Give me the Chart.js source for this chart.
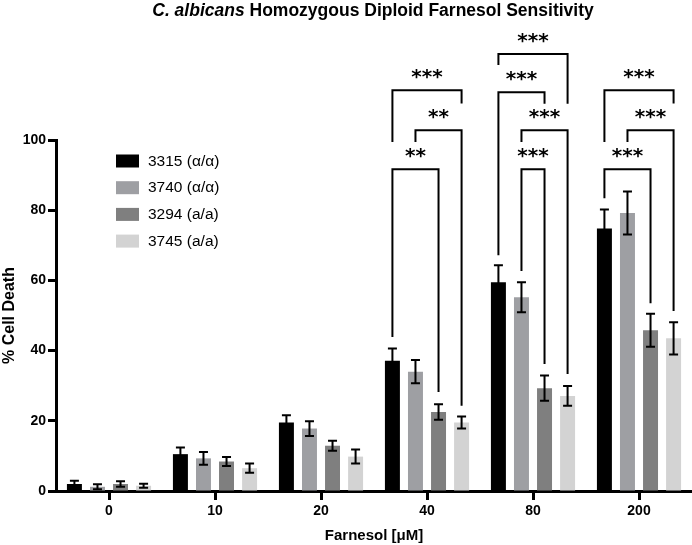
<!DOCTYPE html>
<html>
<head>
<meta charset="utf-8">
<script src="https://cdn.jsdelivr.net/npm/chart.js@4/dist/chart.umd.min.js"></script>
<style>
  html, body { margin: 0; padding: 0; background: #fff; }
  #wrap { position: relative; width: 692px; height: 545px; }
  #title { position: absolute; left: 0; width: 746px; top: 0px; text-align: center;
           font: bold 17.5px "Liberation Sans", Arial, sans-serif; color: #000; white-space: nowrap; }
  canvas { position: absolute; left: 0; top: 0; }
</style>
</head>
<body>
<div id="wrap">
  <canvas id="c" width="692" height="545"></canvas>
  <div id="title"><i>C. albicans</i> Homozygous Diploid Farnesol Sensitivity</div>
</div>
<script>
// ---- data ----
const categories = ['0', '10', '20', '40', '80', '200'];
const seriesLabels = ['3315 (\u03b1/\u03b1)', '3740 (\u03b1/\u03b1)', '3294 (a/a)', '3745 (a/a)'];
const seriesColors = ['#000000', '#9e9fa3', '#7f7f7f', '#d3d3d3'];
const values3315 = [2.0, 10.5, 19.5, 37.1, 59.5, 74.8];
const values3740 = [1.2, 9.3, 17.8, 34.0, 55.2, 79.2];
const values3294 = [2.0, 8.4, 12.9, 22.5, 29.3, 45.8];
const values3745 = [1.5, 6.5, 9.8, 19.5, 27.1, 43.5];
const errors3315 = [0.9, 1.9, 2.1, 3.5, 4.8, 5.4];
const errors3740 = [0.7, 1.8, 2.1, 3.3, 4.3, 6.1];
const errors3294 = [0.8, 1.3, 1.4, 2.2, 3.6, 4.7];
const errors3745 = [0.6, 1.3, 2.0, 1.7, 2.8, 4.6];
const yTicks = [0, 20, 40, 60, 80, 100];
// significance brackets: [category index, bar A, bar B, bracket value, left leg end, right leg end, label]
const sigBrackets = [
  [3, 0, 2, 91.7, 43.9, 28.2, '**'],
  [3, 1, 3, 102.8, 99.4, 24.3, '**'],
  [3, 0, 3, 114.2, 99.4, 110.4, '***'],
  [4, 0, 3, 124.5, 121.4, 110.3, '***'],
  [4, 0, 2, 113.6, 67.2, 110.3, '***'],
  [4, 1, 3, 102.8, 99.4, 33.3, '***'],
  [4, 1, 2, 91.7, 62.7, 36.2, '***'],
  [5, 0, 3, 114.2, 99.4, 110.4, '***'],
  [5, 1, 3, 102.8, 99.4, 51.3, '***'],
  [5, 0, 2, 91.7, 83.4, 53.5, '***']
];

const allValues = [values3315, values3740, values3294, values3745];
const allErrors = [errors3315, errors3740, errors3294, errors3745];

const FONT = '"Liberation Sans", Arial, sans-serif';

const errorBarPlugin = {
  id: 'errorBars',
  afterDatasetsDraw(chart) {
    const ctx = chart.ctx, y = chart.scales.y;
    ctx.save();
    ctx.strokeStyle = '#000';
    ctx.lineWidth = 2;
    chart.data.datasets.forEach((ds, di) => {
      const meta = chart.getDatasetMeta(di);
      meta.data.forEach((bar, i) => {
        const v = ds.data[i], e = allErrors[di][i];
        const yt = y.getPixelForValue(v + e), yb = y.getPixelForValue(v - e);
        const x = bar.x, cap = 4.5;
        ctx.beginPath();
        ctx.moveTo(x, yt); ctx.lineTo(x, yb);
        ctx.moveTo(x - cap, yt); ctx.lineTo(x + cap, yt);
        ctx.moveTo(x - cap, yb); ctx.lineTo(x + cap, yb);
        ctx.stroke();
      });
    });
    ctx.restore();
  }
};

const bracketPlugin = {
  id: 'brackets',
  afterDraw(chart) {
    const ctx = chart.ctx, y = chart.scales.y;
    ctx.save();
    ctx.strokeStyle = '#000';
    ctx.fillStyle = '#000';
    ctx.lineWidth = 2;
    ctx.textAlign = 'center';
    ctx.textBaseline = 'middle';
    ctx.font = 'bold 20px "DejaVu Sans", sans-serif';
    sigBrackets.forEach(([cat, a, b, top, le, re, label]) => {
      const xa = chart.getDatasetMeta(a).data[cat].x;
      const xb = chart.getDatasetMeta(b).data[cat].x;
      const yt = y.getPixelForValue(top);
      ctx.beginPath();
      ctx.moveTo(xa, y.getPixelForValue(le));
      ctx.lineTo(xa, yt);
      ctx.lineTo(xb, yt);
      ctx.lineTo(xb, y.getPixelForValue(re));
      ctx.stroke();
      ctx.fillText(label, (xa + xb) / 2, yt - 12);
    });
    ctx.restore();
  }
};

const legendPlugin = {
  id: 'customLegend',
  afterDraw(chart) {
    const ctx = chart.ctx;
    ctx.save();
    ctx.font = '15.5px ' + FONT;
    ctx.textBaseline = 'middle';
    ctx.textAlign = 'left';
    chart.data.datasets.forEach((ds, i) => {
      const cy = 161 + i * 26.7;
      ctx.fillStyle = ds.backgroundColor;
      ctx.fillRect(116, cy - 6.5, 23, 13);
      ctx.fillStyle = '#000';
      ctx.fillText(ds.label, 148, cy + 0.5);
    });
    ctx.restore();
  }
};

new Chart(document.getElementById('c'), {
  type: 'bar',
  data: {
    labels: categories,
    datasets: allValues.map((vals, i) => ({
      label: seriesLabels[i],
      data: vals,
      backgroundColor: seriesColors[i],
      borderWidth: 0,
      categoryPercentage: 0.87,
      barPercentage: 0.65
    }))
  },
  options: {
    responsive: false,
    animation: false,
    events: [],
    layout: { padding: { top: 140, right: 0, left: 0, bottom: 0 } },
    plugins: { legend: { display: false }, title: { display: false }, tooltip: { enabled: false } },
    scales: {
      x: {
        afterFit(scale) { scale.height = 54; },
        grid: { display: true, drawOnChartArea: false, offset: false, drawTicks: true,
                tickLength: 9, tickWidth: 3, tickColor: '#000' },
        border: { display: true, width: 3, color: '#000' },
        ticks: { color: '#000', padding: 3, font: { family: FONT, size: 14, weight: 'bold' } },
        title: { display: true, text: 'Farnesol [\u03bcM]', color: '#000', padding: { top: 0, bottom: 0 },
                 font: { family: FONT, size: 15, weight: 'bold' } }
      },
      y: {
        min: 0, max: 100,
        afterFit(scale) { scale.width = 56; },
        afterBuildTicks(scale) { scale.ticks = yTicks.map(v => ({ value: v })); },
        grid: { display: true, drawOnChartArea: false, drawTicks: true,
                tickLength: 8, tickWidth: 3, tickColor: '#000' },
        border: { display: true, width: 3, color: '#000' },
        ticks: { color: '#000', padding: 2, font: { family: FONT, size: 14, weight: 'bold' } },
        title: { display: true, text: '% Cell Death', color: '#000', padding: { top: 0, bottom: 0 },
                 font: { family: FONT, size: 16, weight: 'bold' } }
      }
    }
  },
  plugins: [errorBarPlugin, bracketPlugin, legendPlugin]
});
</script>
</body>
</html>
